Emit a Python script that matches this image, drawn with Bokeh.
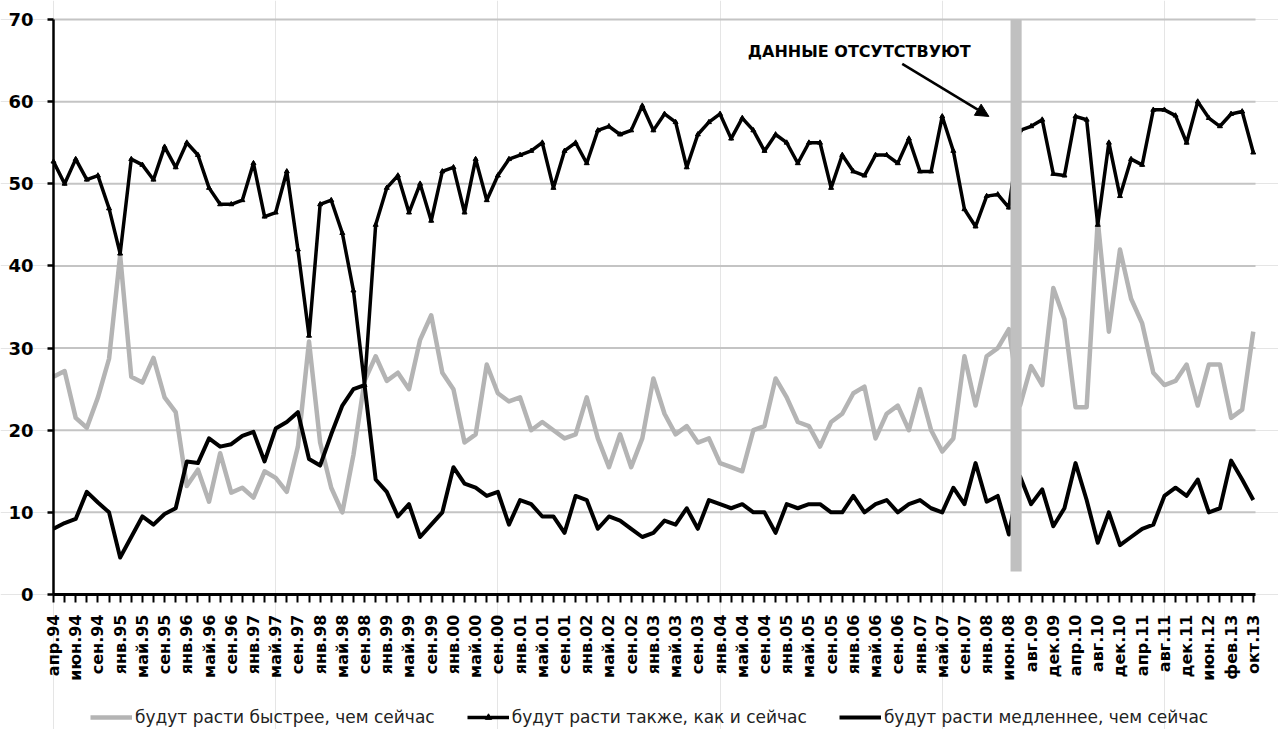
import math
from bokeh.plotting import figure
from bokeh.models import (Range1d, FixedTicker, Legend, LegendItem, Arrow, NormalHead,
                          Label, BoxAnnotation, LinearAxis)
from bokeh.embed import file_html
from bokeh.resources import INLINE

tick_labels = ["апр.94", "июн.94", "сен.94", "янв.95", "май.95", "сен.95", "янв.96", "май.96",
               "сен.96", "янв.97", "май.97", "сен.97", "янв.98", "май.98", "сен.98", "янв.99",
               "май.99", "сен.99", "янв.00", "май.00", "сен.00", "янв.01", "май.01", "сен.01",
               "янв.02", "май.02", "сен.02", "янв.03", "май.03", "сен.03", "янв.04", "май.04",
               "сен.04", "янв.05", "май.05", "сен.05", "янв.06", "май.06", "сен.06", "янв.07",
               "май.07", "сен.07", "янв.08", "июн.08", "авг.09", "дек.09", "апр.10", "авг.10",
               "дек.10", "апр.11", "авг.11", "дек.11", "июн.12", "фев.13", "окт.13"]

y_ticks = [0, 10, 20, 30, 40, 50, 60, 70]

faster = [26.5, 27.2, 21.5, 20.3, 24, 28.7, 41.3, 26.5, 25.8, 28.8,
          24, 22.2, 13.2, 15.2, 11.3, 17.2, 12.4, 13, 11.8, 15,
          14.2, 12.5, 18, 30.8, 18.5, 13, 10, 17, 26, 29,
          26, 27, 25, 31, 34, 27, 25, 18.5, 19.5, 28,
          24.5, 23.5, 24, 20, 21, 20, 19, 19.5, 24, 19,
          15.5, 19.5, 15.5, 19, 26.3, 22, 19.5, 20.5, 18.5, 19,
          16, 15.5, 15, 20, 20.5, 26.3, 24, 21, 20.5, 18,
          21, 22, 24.5, 25.3, 19, 22, 23, 20, 25, 20,
          17.4, 19, 29, 23, 29, 30, 32.3, 23, 27.8, 25.5,
          37.3, 33.5, 22.8, 22.8, 45.5, 32, 42, 36, 33, 27,
          25.5, 26, 28, 23, 28, 28, 21.5, 22.5, 32]

same = [52.7, 50, 53, 50.5, 51, 47, 41.5, 53, 52.3, 50.5,
        54.5, 52, 55, 53.5, 49.5, 47.5, 47.5, 48, 52.5, 46,
        46.5, 51.5, 42, 31.5, 47.5, 48, 44, 37, 25.5, 45,
        49.5, 51, 46.5, 50, 45.5, 51.5, 52, 46.5, 53, 48,
        51, 53, 53.5, 54, 55, 49.5, 54, 55, 52.5, 56.5,
        57, 56, 56.5, 59.5, 56.5, 58.5, 57.5, 52, 56, 57.5,
        58.5, 55.5, 58, 56.5, 54, 56, 55, 52.5, 55, 55,
        49.5, 53.5, 51.5, 51, 53.5, 53.5, 52.5, 55.5, 51.5, 51.5,
        58.2, 54, 46.9, 44.8, 48.5, 48.7, 47.1, 56.5, 57, 57.8,
        51.2, 51, 58.2, 57.8, 45, 55, 48.5, 53, 52.3, 59,
        59, 58.3, 55, 60, 58, 57, 58.5, 58.8, 53.8]

slower = [8, 8.7, 9.2, 12.5, 11.2, 10, 4.5, 7, 9.5, 8.5,
          9.8, 10.5, 16.2, 16, 19, 18, 18.3, 19.3, 19.8, 16.2,
          20.2, 21, 22.2, 16.5, 15.7, 19.5, 23, 25, 25.5, 14,
          12.5, 9.5, 11, 7, 8.5, 10, 15.5, 13.5, 13, 12,
          12.5, 8.5, 11.5, 11, 9.5, 9.5, 7.5, 12, 11.5, 8,
          9.5, 9, 8, 7, 7.5, 9, 8.5, 10.5, 8, 11.5,
          11, 10.5, 11, 10, 10, 7.5, 11, 10.5, 11, 11,
          10, 10, 12, 10, 11, 11.5, 10, 11, 11.5, 10.5,
          10, 13, 11, 16, 11.3, 12, 7.3, 14.4, 11, 12.8,
          8.3, 10.5, 16, 11.5, 6.3, 10, 6, 7, 8, 8.5,
          12, 13, 12, 14, 10, 10.5, 16.3, 14, 11.5]

series_names = ["будут расти быстрее, чем сейчас",
                "будут расти также, как и сейчас",
                "будут расти медленнее, чем сейчас"]
note_text = "ДАННЫЕ ОТСУТСТВУЮТ"

n = len(same)
xs = list(range(n))
x_last = 108.2

# the frame fills the page; axes are pinned at x = 0 and y = 0
px_x = 1202 / x_last
px_y = 575 / 70
x_start = -53 / px_x
x_end = x_start + 1278 / px_x
y_end = 70 + 19 / px_y
y_start = -135 / px_y

p = figure(frame_width=1278, frame_height=729,
           x_range=Range1d(x_start, x_end), y_range=Range1d(y_start, y_end),
           x_axis_location=None, y_axis_location=None,
           min_border_left=0, min_border_top=0, min_border_right=0, min_border_bottom=0,
           output_backend="svg", toolbar_location=None,
           background_fill_color="white", border_fill_color="white")
p.outline_line_color = None

# horizontal grid lines over the value range only
grid_vals = y_ticks[1:]
p.segment(x0=[0] * len(grid_vals), x1=[x_last] * len(grid_vals), y0=grid_vals, y1=grid_vals,
          line_color="#c4c4c4", line_width=2)

# y axis
yaxis = LinearAxis(fixed_location=0, bounds=(0, 70), ticker=FixedTicker(ticks=y_ticks),
                   axis_line_width=2.5, axis_line_color="black",
                   major_tick_out=6, major_tick_in=0, major_tick_line_width=2.5,
                   minor_tick_line_color=None,
                   major_label_text_font="DejaVu Sans", major_label_text_font_style="bold",
                   major_label_text_font_size="18px", major_label_text_color="black",
                   major_label_standoff=14)
p.add_layout(yaxis, "left")

# x axis
even = [i for i in xs if i % 2 == 0]
odd = [i for i in xs if i % 2 == 1]
xaxis = LinearAxis(fixed_location=0, bounds=(0, x_last),
                   ticker=FixedTicker(ticks=even, minor_ticks=odd),
                   major_label_overrides={i: tick_labels[k] for k, i in enumerate(even)},
                   major_label_orientation=math.pi / 2,
                   axis_line_width=3, axis_line_color="black",
                   major_tick_out=8, major_tick_in=0, minor_tick_out=8, minor_tick_in=0,
                   major_tick_line_width=2, minor_tick_line_width=2,
                   minor_tick_line_color="black",
                   major_label_text_font="DejaVu Sans", major_label_text_font_style="bold",
                   major_label_text_font_size="16px", major_label_text_color="black",
                   major_label_standoff=12)
p.add_layout(xaxis, "below")

# series
r_fast = p.line(xs, faster, line_color="#b4b4b4", line_width=4.5, line_join="round")
r_slow = p.line(xs, slower, line_color="black", line_width=4, line_join="round")
r_same = p.line(xs, same, line_color="black", line_width=3.5, line_join="round")
r_same_m = p.scatter(xs, same, marker="triangle", size=5, color="black")

# missing-data bar
p.add_layout(BoxAnnotation(left=86.15, right=87.15, bottom=2.8, top=70,
                           fill_color="#c0c0c0", fill_alpha=1, line_color=None))

# annotation
p.add_layout(Label(x=62.5, y=66.1, text=note_text, text_font="DejaVu Sans",
                   text_font_style="bold", text_font_size="16px", text_color="black",
                   text_baseline="middle", text_align="left"))
p.add_layout(Arrow(x_start=76.4, y_start=64.6, x_end=84.2, y_end=58.2,
                   line_color="black", line_width=2.5,
                   end=NormalHead(size=13, fill_color="black", line_color="black")))

legend = Legend(items=[LegendItem(label=series_names[0], renderers=[r_fast]),
                       LegendItem(label=series_names[1], renderers=[r_same, r_same_m]),
                       LegendItem(label=series_names[2], renderers=[r_slow])],
                orientation="horizontal", location=(90, 2),
                label_text_font="DejaVu Sans", label_text_font_size="17px",
                label_text_color="#222222", glyph_width=42, glyph_height=16,
                label_standoff=3, spacing=32, label_height=20,
                border_line_color=None, background_fill_alpha=0, margin=0, padding=0)
p.add_layout(legend, "center")

open("out.html", "w").write(file_html(p, INLINE))
